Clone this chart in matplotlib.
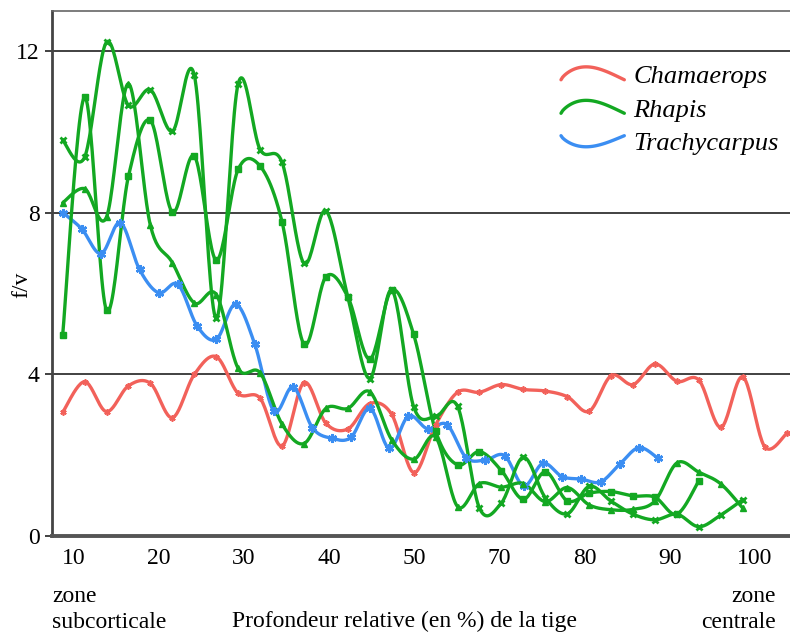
import numpy as np
import matplotlib
matplotlib.use("Agg")
import matplotlib.pyplot as plt
from matplotlib.legend_handler import HandlerBase
from matplotlib.lines import Line2D

# ---------------- data ----------------
tick_pos = [10, 20, 30, 40, 50, 60, 70, 80, 90]
tick_labels = ["10", "20", "30", "40", "50", "70", "80", "90", "100"]
y_ticks = [0, 4, 8, 12]

# sample positions (axis units)
x_start = 8.73
x_step_main = 2.575     # Chamaerops and Rhapis
x_step_trachy = 2.255   # Trachycarpus

chamaerops = [3.06, 3.82, 3.08, 3.72, 3.78, 2.93, 4.00, 4.44, 3.53, 3.41, 2.23,
              3.80, 2.79, 2.65, 3.28, 3.01, 1.57, 2.75, 3.56, 3.56, 3.75, 3.63,
              3.59, 3.45, 3.09, 3.97, 3.75, 4.26, 3.83, 3.86, 2.69, 3.94, 2.21, 2.54]

trachycarpus = [8.01, 7.60, 6.99, 7.76, 6.60, 6.02, 6.23, 5.20, 4.87, 5.74, 4.75,
                3.09, 3.69, 2.68, 2.42, 2.44, 3.16, 2.17, 2.97, 2.65, 2.76, 1.94,
                1.88, 1.99, 1.24, 1.80, 1.47, 1.41, 1.34, 1.78, 2.19, 1.92]

rhapis_x = [9.80, 9.38, 12.23, 10.66, 11.05, 10.02, 11.41, 5.39, 11.20, 9.57, 9.25,
            6.75, 8.05, 5.92, 3.90, 6.09, 3.20, 2.96, 3.21, 0.69, 0.82, 1.95,
            0.95, 0.55, 1.23, 0.86, 0.54, 0.40, 0.54, 0.23, 0.52, 0.90]

rhapis_sq = [4.97, 10.87, 5.59, 8.91, 10.29, 8.02, 9.41, 6.83, 9.08, 9.16, 7.78,
             4.75, 6.42, 5.92, 4.38, 6.09, 4.99, 2.60, 1.76, 2.09, 1.62, 0.91,
             1.59, 0.87, 1.06, 1.10, 0.99, 0.96, 0.54, 1.37]

rhapis_tri = [8.25, 8.60, 7.90, 11.20, 7.69, 6.77, 5.77, 5.98, 4.15, 4.04, 2.77,
              2.29, 3.16, 3.16, 3.57, 2.38, 1.90, 2.45, 0.73, 1.30, 1.21, 1.30,
              0.85, 1.20, 0.77, 0.65, 0.66, 0.87, 1.81, 1.58, 1.29, 0.69]

names = ["Chamaerops", "Rhapis", "Trachycarpus"]
RED, GREEN, BLUE = "#f2615a", "#13a822", "#3b8ef2"


def xs(n, step):
    return x_start + step * np.arange(n)


def smooth(x, y, n=24):
    P = np.column_stack([x, y]).astype(float)
    E = np.vstack([P[0], P, P[-1]])
    t = np.linspace(0, 1, n)[:, None]
    out = []
    for i in range(len(P) - 1):
        p0, p1, p2, p3 = E[i], E[i + 1], E[i + 2], E[i + 3]
        c1 = p1 + (p2 - p0) / 6.0
        c2 = p2 - (p3 - p1) / 6.0
        seg = (1 - t) ** 3 * p1 + 3 * (1 - t) ** 2 * t * c1 + 3 * (1 - t) * t ** 2 * c2 + t ** 3 * p2
        out.append(seg if i == 0 else seg[1:])
    S = np.vstack(out)
    return S[:, 0], S[:, 1]


plt.rcParams["font.family"] = ["Liberation Serif", "DejaVu Serif"]

fig = plt.figure(figsize=(7.9, 6.35), dpi=100)
ax = fig.add_axes([52 / 790, 1 - 536 / 635, 1 - 52 / 790, (536 - 11) / 635])

ax.set_xlim(7.48, 94.1)
ax.set_ylim(0, 13)

for yv in y_ticks[1:]:
    ax.axhline(yv, color="#333333", lw=1.3, zorder=1)

series = [
    (chamaerops, x_step_main, RED, (6, 2, 0), 4.5, 1.2),
    (trachycarpus, x_step_trachy, BLUE, (6, 2, 0), 6.5, 1.8),
    (rhapis_sq, x_step_main, GREEN, "s", 4.2, 1.0),
    (rhapis_tri, x_step_main, GREEN, "^", 4.5, 1.0),
    (rhapis_x, x_step_main, GREEN, "x", 5.0, 2.0),
]
for vals, step, col, mk, ms, mew in series:
    xx = xs(len(vals), step)
    sx, sy = smooth(xx, vals)
    ax.plot(sx, sy, color=col, lw=2.4, zorder=3, solid_capstyle="round")
    ax.plot(xx, vals, ls="none", marker=mk, ms=ms, mew=mew, color=col,
            mec=col, mfc=col, zorder=4)

# spines
ax.spines["right"].set_visible(False)
ax.spines["top"].set_color("#666666")
ax.spines["top"].set_linewidth(1.2)
ax.spines["left"].set_color("#444444")
ax.spines["left"].set_linewidth(2.0)
ax.spines["bottom"].set_color("#555555")
ax.spines["bottom"].set_linewidth(2.8)

FS = 17
ax.set_xticks(tick_pos)
ax.set_xticklabels(tick_labels, fontsize=FS)
ax.tick_params(axis="x", length=0, pad=9)
ax.set_yticks(y_ticks)
ax.set_yticklabels([str(v) for v in y_ticks], fontsize=FS)
ax.tick_params(axis="y", length=5, width=1.3, color="#333333", pad=4)

fig.text(22 / 790, 1 - 285 / 635, "f/v", rotation=90, fontsize=FS,
         ha="center", va="center")
fig.text(52 / 790, 1 - 597 / 635, "zone", fontsize=FS, ha="left", va="center")
fig.text(52 / 790, 1 - 622 / 635, "subcorticale", fontsize=FS, ha="left", va="center")
fig.text(405 / 790, 1 - 621 / 635, "Profondeur relative (en %) de la tige",
         fontsize=FS, ha="center", va="center")
fig.text(776 / 790, 1 - 597 / 635, "zone", fontsize=FS, ha="right", va="center")
fig.text(776 / 790, 1 - 622 / 635, "centrale", fontsize=FS, ha="right", va="center")


class ArcHandler(HandlerBase):
    def __init__(self, sign):
        super().__init__()
        self.sign = sign

    def create_artists(self, legend, orig_handle, xdescent, ydescent, width,
                       height, fontsize, trans):
        t = np.linspace(0, 1, 40)
        x = -xdescent + width * t
        shape = np.sin(np.pi * t ** 0.75)
        if self.sign > 0:
            y = -ydescent + height * (0.2 + 0.7 * shape)
        else:
            y = -ydescent + height * (0.8 - 0.6 * shape)
        ln = Line2D(x, y, color=orig_handle.get_color(), lw=2.4,
                    solid_capstyle="round")
        ln.set_transform(trans)
        return [ln]


h_red = Line2D([], [], color=RED)
h_green = Line2D([], [], color=GREEN)
h_blue = Line2D([], [], color=BLUE)
leg = ax.legend([h_red, h_green, h_blue], names,
                handler_map={h_red: ArcHandler(1), h_green: ArcHandler(1),
                             h_blue: ArcHandler(-1)},
                loc="upper left", bbox_to_anchor=(561 / 790, 1 - 65 / 635),
                bbox_transform=fig.transFigure, frameon=False,
                prop={"family": ["Liberation Serif"], "style": "italic", "size": 19},
                handlelength=2.4, handletextpad=0.35, labelspacing=0.38,
                borderpad=0, borderaxespad=0)

fig.savefig("out.png", dpi=100)
